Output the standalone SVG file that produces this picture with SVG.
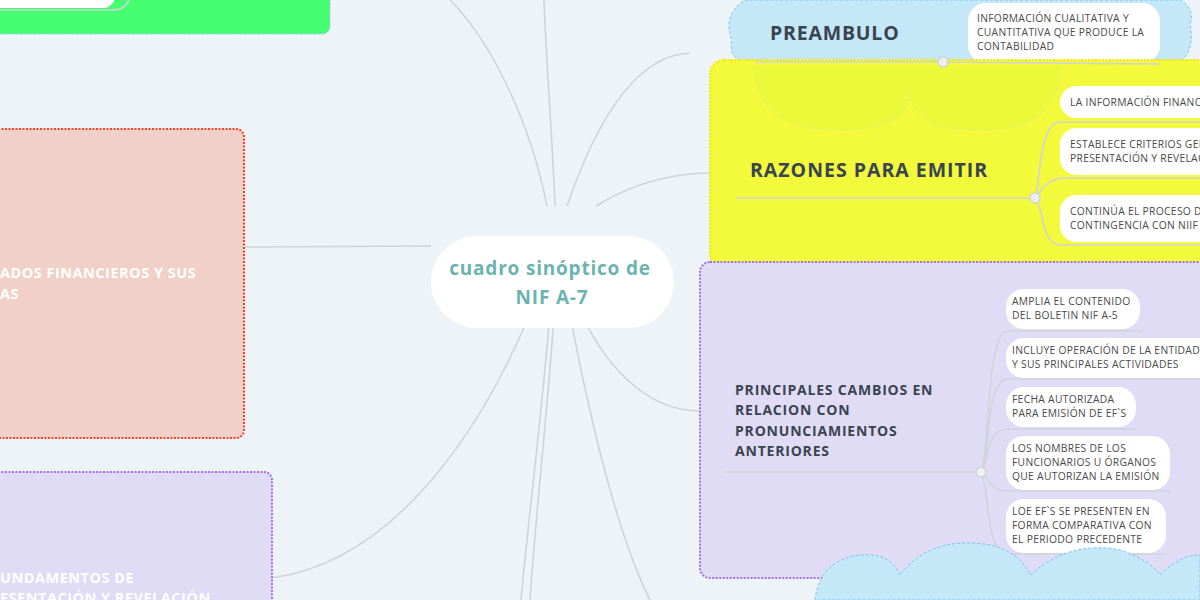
<svg xmlns="http://www.w3.org/2000/svg" width="1200" height="600" viewBox="0 0 1200 600">
<style>
.t{font-family:"Open Sans",Lato,sans-serif}
.c{fill:none;stroke:#d0d4d8;stroke-width:1.6}
.pill{fill:#fff}
.s{font-family:"Open Sans",sans-serif;font-size:10.3px;fill:#4a4a4a;letter-spacing:0.3px}
.h{font-family:"Open Sans",sans-serif;font-weight:bold;fill:#3a4450}
.dot{fill:#eef1f4;stroke:#d0d4d8;stroke-width:1.5}
</style>
<rect width="1200" height="600" fill="#eef3f7"/>
<g id="connectors">
<path class="c" d="M547,206 C530,120 490,40 450,0"/>
<path class="c" d="M555,206 C552,130 546,60 544,0"/>
<path class="c" d="M567,206 C600,110 640,55 690,53"/>
<path class="c" d="M596,206 C630,185 670,173 712,173"/>
<path class="c" d="M431,246 L245,247"/>
<path class="c" d="M541,286 C490,420 400,560 272,578"/>
<path class="c" d="M552,286 C545,390 528,520 521,600"/>
<path class="c" d="M556,286 C550,390 535,520 530,600"/>
<path class="c" d="M565,286 C585,400 615,530 650,600"/>
<path class="c" d="M570,286 C600,370 650,411 700,411"/>
</g>
<g id="green">
<rect x="-10" y="-40" width="340" height="74" rx="8" fill="#45ff70" stroke="#8fc8f0" stroke-dasharray="2,1.5"/>
<rect x="-20" y="-30" width="135" height="38" rx="12" fill="#fff"/>
<path class="c" d="M0,10 L112,10 Q128,10 130,-5"/>
</g>
<g id="salmon">
<rect x="-10" y="129" width="254" height="309" rx="8" fill="#f0d0c8" stroke="#ff4020" stroke-width="2" stroke-dasharray="2,1.5"/>
<text class="t" font-weight="bold" font-size="14.5" fill="#fff" letter-spacing="0.5"><tspan x="0" y="278">ADOS FINANCIEROS Y SUS</tspan><tspan x="0" y="299">AS</tspan></text>
</g>
<g id="lavender">
<rect x="-10" y="472" width="282" height="150" rx="8" fill="#e0dcf5" stroke="#a070f0" stroke-width="2" stroke-dasharray="2,1.5"/>
<text class="t" font-weight="bold" font-size="14.5" fill="#fff" letter-spacing="0.5"><tspan x="0" y="583">UNDAMENTOS  DE</tspan><tspan x="0" y="603">ESENTACIÓN  Y REVELACIÓN</tspan></text>
</g>
<g id="center">
<rect x="431" y="236" width="243" height="92" rx="46" fill="#fff"/>
<text class="t" font-weight="bold" font-size="19" fill="#6bb4b0" text-anchor="middle" letter-spacing="0.8"><tspan x="550" y="275">cuadro sinóptico de</tspan><tspan x="552" y="304">NIF A-7</tspan></text>
</g>
<g id="preambulo">
<path d="M745,0 L1180,0 Q1195,8 1190,25 Q1195,50 1180,62 L745,62 Q728,58 732,40 Q722,15 745,0 Z" fill="#c5e8f8" stroke="#6cc4f0" stroke-dasharray="3,2"/>
<text class="h" x="770" y="40" font-size="19.5" letter-spacing="0.8">PREAMBULO</text>
<rect class="pill" x="968" y="3" width="192" height="60" rx="18"/>
<text class="s"><tspan x="977" y="22">INFORMACIÓN CUALITATIVA Y</tspan><tspan x="977" y="36">CUANTITATIVA QUE PRODUCE LA</tspan><tspan x="977" y="50">CONTABILIDAD</tspan></text>
</g>
<g id="razones">
<rect x="710" y="60" width="500" height="208" rx="14" fill="#f2fa3b" stroke="#f5e800" stroke-width="2" stroke-dasharray="2,1.5"/>
<path d="M755,66 Q755,130 840,130 Q910,130 910,90 Q910,130 980,130 Q1060,130 1060,66" fill="#ecf83a" stroke="#d8f070" stroke-dasharray="3,2"/>
<path class="c" d="M755,62 L943,62 L1160,64"/>
<circle class="dot" cx="943" cy="62" r="5"/>
<text class="h" x="750" y="177" font-size="19.5" letter-spacing="1">RAZONES PARA EMITIR</text>
<path class="c" d="M736,198 L1035,198"/>
<path class="c" d="M1035,198 C1040,190 1038,122 1060,122 L1200,122 M1035,198 C1045,185 1050,178 1065,178 L1200,178 M1035,198 C1045,210 1040,245 1062,245 L1200,245"/>
<rect class="pill" x="1060" y="86" width="160" height="32" rx="16"/>
<text class="s" x="1070" y="106">LA INFORMACIÓN FINANCIERA</text>
<rect class="pill" x="1060" y="128" width="160" height="47" rx="16"/>
<text class="s"><tspan x="1070" y="148">ESTABLECE CRITERIOS GENERALES</tspan><tspan x="1070" y="162">PRESENTACIÓN Y REVELACIÓN</tspan></text>
<rect class="pill" x="1060" y="195" width="160" height="47" rx="16"/>
<text class="s"><tspan x="1070" y="215">CONTINÚA EL PROCESO DE</tspan><tspan x="1070" y="229">CONTINGENCIA CON NIIF</tspan></text>
<circle class="dot" cx="1035" cy="198" r="5"/>
</g>
<g id="cambios">
<rect x="700" y="262" width="520" height="316" rx="10" fill="#e0dcf5" stroke="#a070f0" stroke-width="2" stroke-dasharray="2,1.5"/>
<text class="h" font-size="14" letter-spacing="0.8"><tspan x="735" y="395">PRINCIPALES CAMBIOS  EN</tspan><tspan x="735" y="415">RELACION CON</tspan><tspan x="735" y="436">PRONUNCIAMIENTOS</tspan><tspan x="735" y="456">ANTERIORES</tspan></text>
<path class="c" d="M725,472 L981,472"/>
<path class="c" d="M981,472 C990,460 985,331 1008,331 L1142,331 M981,472 C990,460 985,379 1008,379 L1200,379 M981,472 C990,460 985,429 1008,429 L1136,429 M981,472 C990,480 990,491 1008,491 L1171,491 M981,472 C990,490 985,554 1008,554 L1167,554"/>
<rect class="pill" x="1006" y="289" width="134" height="40" rx="18"/>
<text class="s"><tspan x="1012" y="305">AMPLIA EL CONTENIDO</tspan><tspan x="1012" y="319">DEL BOLETIN NIF A-5</tspan></text>
<rect class="pill" x="1006" y="338" width="214" height="40" rx="18"/>
<text class="s"><tspan x="1012" y="354">INCLUYE OPERACIÓN DE LA ENTIDAD</tspan><tspan x="1012" y="368">Y SUS PRINCIPALES ACTIVIDADES</tspan></text>
<rect class="pill" x="1006" y="387" width="130" height="40" rx="18"/>
<text class="s"><tspan x="1012" y="403">FECHA AUTORIZADA</tspan><tspan x="1012" y="417">PARA EMISIÓN DE EF`S</tspan></text>
<rect class="pill" x="1006" y="436" width="164" height="54" rx="18"/>
<text class="s"><tspan x="1012" y="452">LOS NOMBRES DE LOS</tspan><tspan x="1012" y="466">FUNCIONARIOS U ÓRGANOS</tspan><tspan x="1012" y="480">QUE AUTORIZAN LA EMISIÓN</tspan></text>
<rect class="pill" x="1006" y="499" width="160" height="54" rx="18"/>
<text class="s"><tspan x="1012" y="515">LOE EF`S SE PRESENTEN EN</tspan><tspan x="1012" y="529">FORMA COMPARATIVA  CON</tspan><tspan x="1012" y="543">EL PERIODO PRECEDENTE</tspan></text>
<circle class="dot" cx="981" cy="472" r="5"/>
</g>
<g id="bottomcloud">
<path d="M815,600 Q820,560 860,555 Q890,552 900,575 Q930,535 990,545 Q1020,552 1030,575 Q1070,540 1120,550 Q1150,560 1160,575 Q1180,555 1200,555 L1200,600 Z" fill="#c5e8f8" stroke="#6cc4f0" stroke-dasharray="3,2"/>
</g>
</svg>
